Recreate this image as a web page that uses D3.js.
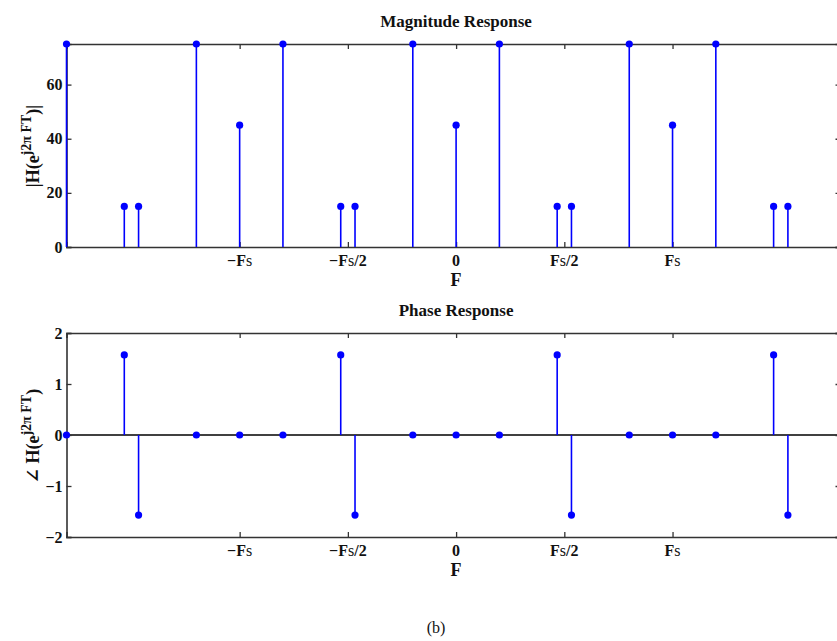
<!DOCTYPE html>
<html>
<head>
<meta charset="utf-8">
<script src="https://cdn.jsdelivr.net/npm/d3@7"></script>
<style>
  body { margin: 0; background: #fff; }
  text { font-family: "Liberation Serif", "DejaVu Serif", serif; fill: #111; }
</style>
</head>
<body>
<script>
// frequency in units of Fs
const freqs = [-1.8, -1.533, -1.467, -1.2, -1, -0.8, -0.533, -0.467, -0.2,
  0, 0.2, 0.467, 0.533, 0.8, 1, 1.2, 1.467, 1.533];
const magnitude = [75, 15, 15, 75, 45, 75, 15, 15, 75, 45, 75, 15, 15, 75, 45, 75, 15, 15];
const phase = [0, 1.571, -1.571, 0, 0, 0, 1.571, -1.571, 0, 0, 0, 1.571, -1.571, 0, 0, 0, 1.571, -1.571];

const xTicks = [-1, -0.5, 0, 0.5, 1];
const xTickLabels = ['−Fs', '−Fs/2', '0', 'Fs/2', 'Fs'];
const magTicks = [0, 20, 40, 60];
const phaseTicks = [-2, -1, 0, 1, 2];

const W = 837, H = 641;
const left = 66.5, right = 840.5;
const blue = '#0000ff';
const axisCol = '#333';

const svg = d3.select('body').append('svg')
  .attr('width', W)
  .attr('height', H);

const x = d3.scaleLinear()
  .domain([-1.8, 1.776])
  .range([left, right]);

function fsLabel(sel, label) {
  // "F" bold, "s" lighter, as in the reference
  sel.text(null);
  const parts = label.match(/^(−?)(F?)(s?)(.*)$/);
  if (parts[1]) sel.append('tspan').attr('font-weight', 'bold').text(parts[1]);
  if (parts[2]) sel.append('tspan').attr('font-weight', 'bold').text(parts[2]);
  if (parts[3]) sel.append('tspan').attr('font-weight', 'normal').text(parts[3]);
  if (parts[4]) sel.append('tspan').attr('font-weight', 'bold').text(parts[4]);
}

function panel(opts) {
  const y = d3.scaleLinear().domain(opts.domain).range([opts.bottom, opts.top]);
  const g = svg.append('g');
  const pts = freqs.map((f, i) => ({ f, v: opts.values[i] }));
  const base = y(opts.base);

  // baseline
  if (opts.base !== opts.domain[0]) {
    g.append('line')
      .attr('x1', left).attr('x2', right)
      .attr('y1', base).attr('y2', base)
      .attr('stroke', '#000')
      .attr('stroke-width', 1.3);
  }

  // axes box with inward ticks
  const axB = d3.axisBottom(x).tickValues(xTicks).tickSize(-5).tickFormat('');
  const axT = d3.axisTop(x).tickValues(xTicks).tickSize(-5).tickFormat('');
  const axL = d3.axisLeft(y).tickValues(opts.yTicks).tickSize(-5).tickPadding(4);
  const axR = d3.axisRight(y).tickValues(opts.yTicks).tickSize(-5).tickFormat('');

  const ax = [
    g.append('g').attr('transform', `translate(0,${opts.bottom})`).call(axB),
    g.append('g').attr('transform', `translate(0,${opts.top})`).call(axT),
    g.append('g').attr('transform', `translate(${left},0)`).call(axL),
    g.append('g').attr('transform', `translate(${right},0)`).call(axR),
  ];
  ax.forEach(a => {
    a.selectAll('.domain').attr('stroke', axisCol).attr('stroke-width', 1.6);
    a.selectAll('.tick line').attr('stroke', axisCol).attr('stroke-width', 1.3);
  });
  ax[2].selectAll('.tick text')
    .attr('font-family', '"Liberation Serif", serif')
    .attr('font-weight', 'bold')
    .attr('font-size', 16)
    .attr('fill', '#111')
    .text(d => (d < 0 ? '−' + Math.abs(d) : d));

  // stems, drawn over the axis line where they coincide
  g.selectAll('line.stem')
    .data(pts)
    .join('line')
    .attr('class', 'stem')
    .attr('x1', d => x(d.f))
    .attr('x2', d => x(d.f))
    .attr('y1', base)
    .attr('y2', d => y(d.v))
    .attr('stroke', blue)
    .attr('stroke-width', 1.6);

  // markers
  g.selectAll('circle')
    .data(pts)
    .join('circle')
    .attr('cx', d => x(d.f))
    .attr('cy', d => y(d.v))
    .attr('r', 3.6)
    .attr('fill', blue);

  // x tick labels
  g.selectAll('text.xt')
    .data(xTicks)
    .join('text')
    .attr('class', 'xt')
    .attr('x', d => x(d))
    .attr('y', opts.bottom + 19)
    .attr('text-anchor', 'middle')
    .attr('font-size', 16)
    .each(function (d, i) { fsLabel(d3.select(this), xTickLabels[i]); });

  // x label
  g.append('text')
    .attr('x', x(0))
    .attr('y', opts.bottom + 39)
    .attr('text-anchor', 'middle')
    .attr('font-size', 18)
    .attr('font-weight', 'bold')
    .text('F');

  // title
  g.append('text')
    .attr('x', x(0))
    .attr('y', opts.top - 17)
    .attr('text-anchor', 'middle')
    .attr('font-size', 17)
    .attr('font-weight', 'bold')
    .text(opts.title);

  // y label
  const yl = g.append('text')
    .attr('transform', `translate(39,${opts.labelY}) rotate(-90)`)
    .attr('text-anchor', 'middle')
    .attr('font-size', 18)
    .attr('font-weight', 'bold');
  yl.append('tspan').text(opts.yPrefix + 'H(e');
  yl.append('tspan').attr('font-size', 14).attr('dy', -8).text('j2π FT');
  yl.append('tspan').attr('dy', 8).text(')' + opts.ySuffix);
}

panel({
  top: 44, bottom: 247, domain: [0, 75], base: 0,
  values: magnitude, yTicks: magTicks,
  title: 'Magnitude Response', yPrefix: '|', ySuffix: '|', labelY: 146,
});

panel({
  top: 333, bottom: 537, domain: [-2, 2], base: 0,
  values: phase, yTicks: phaseTicks,
  title: 'Phase Response', yPrefix: '∠ ', ySuffix: '', labelY: 436,
});

svg.append('text')
  .attr('x', 436)
  .attr('y', 633)
  .attr('text-anchor', 'middle')
  .attr('font-size', 16)
  .text('(b)');
</script>
</body>
</html>
